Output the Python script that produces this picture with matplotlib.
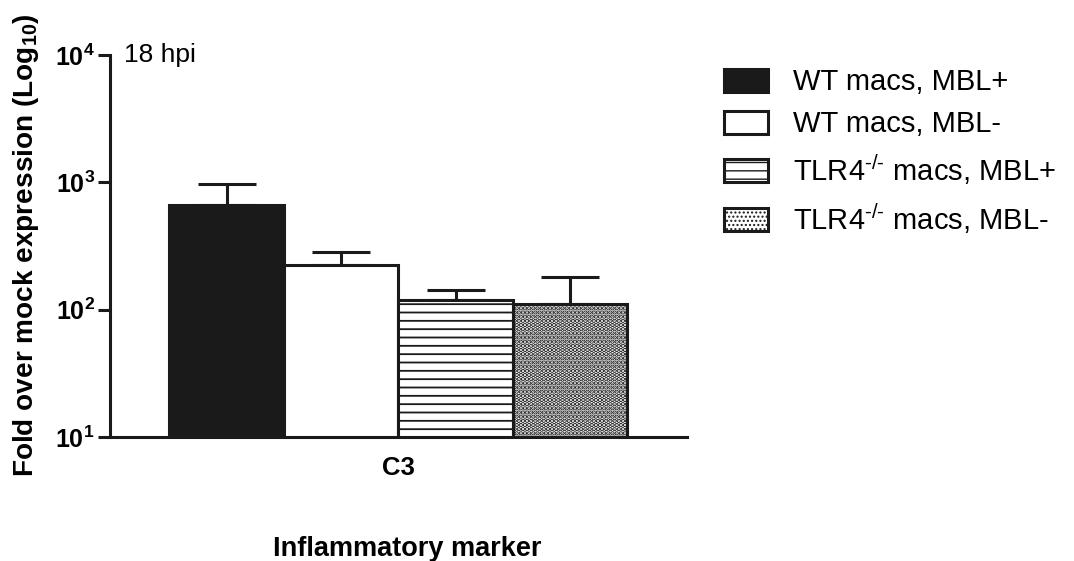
import matplotlib
matplotlib.use("Agg")
import matplotlib.pyplot as plt
import numpy as np

plt.rcParams['font.family'] = ['Liberation Sans', 'DejaVu Sans']
plt.rcParams['mathtext.fontset'] = 'custom'
plt.rcParams['mathtext.rm'] = 'Liberation Sans'
plt.rcParams['mathtext.bf'] = 'Liberation Sans:bold'
plt.rcParams['mathtext.it'] = 'Liberation Sans:italic'
plt.rcParams['hatch.color'] = '#1a1a1a'

# data
groups = ['WT macs, MBL+', 'WT macs, MBL-',
          'TLR4$^{\\text{-/-}}$ macs, MBL+', 'TLR4$^{\\text{-/-}}$ macs, MBL-']
means = [660, 223, 120, 110]
upper_err = [305, 60, 22, 69]
marker = 'C3'

ink = '#1a1a1a'
faces = [ink, 'white', 'white', 'white']
hatches = [None, None, '--', '....']
hatch_lw = [1.0, 1.0, 1.3, 2.3]

fig = plt.figure(figsize=(10.74, 5.61), dpi=100)
ax = fig.add_axes([0.1024, 0.221, 0.537, 0.681])

width = 1.0
xs = np.arange(len(groups)) * width
for i, (x, m, e) in enumerate(zip(xs, means, upper_err)):
    ax.errorbar(x, m, yerr=[[0], [e]], fmt='none', ecolor=ink,
                elinewidth=2.2, capsize=21, capthick=2.2, zorder=1)
    with plt.rc_context({'hatch.linewidth': hatch_lw[i]}):
        ax.bar(x, m, width=width, color=faces[i], edgecolor=ink,
               linewidth=2.2, hatch=hatches[i], label=groups[i], zorder=2)

ax.set_yscale('log')
ax.set_ylim(10, 1e4)
ax.set_xlim(xs[0] - 1.0 * width - 0.02, xs[-1] + 1.0 * width + 0.02)
ax.set_yticks([10, 100, 1000, 10000])
ax.set_yticklabels([r'$\mathbf{10^{1}}$', r'$\mathbf{10^{2}}$',
                    r'$\mathbf{10^{3}}$', r'$\mathbf{10^{4}}$'])
ax.yaxis.set_minor_locator(matplotlib.ticker.NullLocator())
ax.tick_params(axis='y', direction='out', length=9, width=2.2,
               labelsize=18, pad=2, color=ink)
ax.set_xticks([xs.mean()])
ax.set_xticklabels([marker], fontsize=18.5, fontweight='bold')
ax.tick_params(axis='x', length=0, pad=14)

for s in ['top', 'right']:
    ax.spines[s].set_visible(False)
for s in ['left', 'bottom']:
    ax.spines[s].set_linewidth(2.2)
    ax.spines[s].set_color(ink)

ax.set_ylabel('Fold over mock expression (Log$_{\\mathbf{10}}$)',
              fontsize=20.2, fontweight='bold')
ax.yaxis.set_label_coords(-0.12, 0.502)
ax.set_xlabel('Inflammatory marker', fontsize=19.5, fontweight='bold')
ax.xaxis.set_label_coords(0.516, -0.26)
ax.text(0.025, 1.0, '18 hpi', transform=ax.transAxes, fontsize=19,
        va='center', ha='left')

leg = ax.legend(loc='upper left', bbox_to_anchor=(1.064, 0.965),
                frameon=False, fontsize=21, handlelength=1.52,
                handleheight=0.83, labelspacing=0.48, handletextpad=0.85,
                borderaxespad=0, borderpad=0)

fig.savefig('out.png', dpi=100)
